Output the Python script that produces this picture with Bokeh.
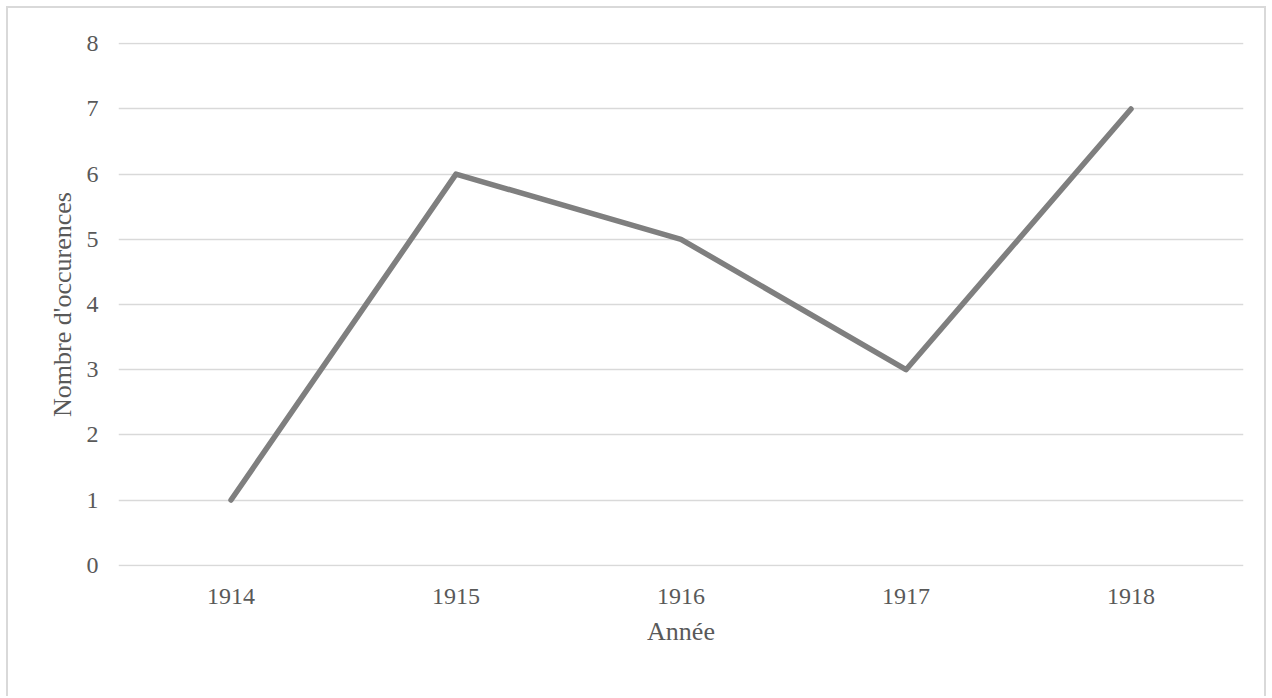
from bokeh.plotting import figure
from bokeh.models import Range1d, FactorRange
from bokeh.embed import file_html
from bokeh.resources import INLINE

years = ["1914", "1915", "1916", "1917", "1918"]
occurrences = [1, 6, 5, 3, 7]
y_ticks = [0, 1, 2, 3, 4, 5, 6, 7, 8]

FONT = "Liberation Serif"
TXT = "#595959"

p = figure(width=1260, height=690, output_backend="svg", toolbar_location=None,
           x_range=FactorRange(*years, range_padding=0), y_range=Range1d(-0.02, 8.02),
           min_border_left=110, min_border_right=25, min_border_top=34, min_border_bottom=132,
           styles={"border": "2px solid #d9d9d9", "border-bottom": "none",
                   "margin": "6px 0 0 6px"})
p.outline_line_color = None
p.background_fill_color = "white"
p.border_fill_color = "white"

p.line(x=years, y=occurrences, line_color="#7f7f7f", line_width=5.5,
       line_join="round", line_cap="round")

p.xgrid.grid_line_color = None
p.ygrid.grid_line_color = "#d9d9d9"
p.ygrid.grid_line_width = 1.5
p.yaxis.ticker = y_ticks

for ax in (p.xaxis[0], p.yaxis[0]):
    ax.axis_line_color = None
    ax.major_tick_line_color = None
    ax.minor_tick_line_color = None
    ax.major_tick_out = 0
    ax.major_tick_in = 0
    ax.major_label_text_font = FONT
    ax.major_label_text_font_size = "24px"
    ax.major_label_text_color = TXT
    ax.axis_label_text_font = FONT
    ax.axis_label_text_font_size = "26px"
    ax.axis_label_text_color = TXT
    ax.axis_label_text_font_style = "normal"

p.xaxis.axis_label = "Année"
p.yaxis.axis_label = "Nombre d'occurences"
p.xaxis.major_label_standoff = 22
p.xaxis.axis_label_standoff = 10
p.yaxis.major_label_standoff = 20
p.yaxis.axis_label_standoff = 7

open("out.html", "w").write(file_html(p, INLINE))
